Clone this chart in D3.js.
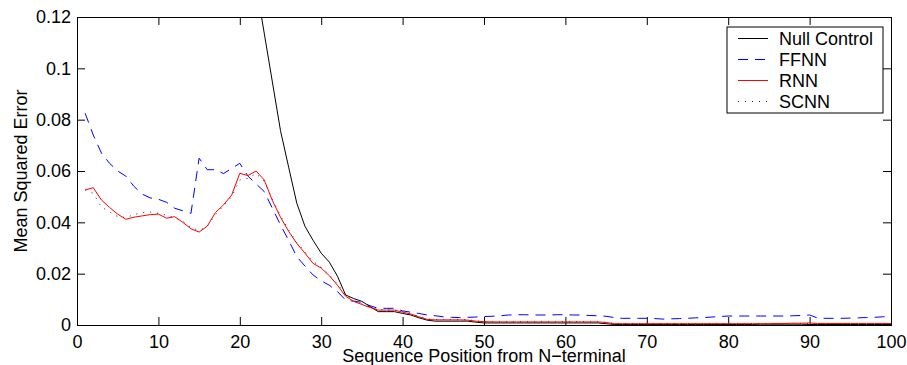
<!DOCTYPE html>
<html>
<head>
<meta charset="utf-8">
<script src="https://cdn.jsdelivr.net/npm/d3@7"></script>
<style>
  body { margin: 0; background: #fff; }
  svg text { font-family: "Liberation Sans", Arial, Helvetica, sans-serif; }
</style>
</head>
<body>
<div id="chart"></div>
<script>
// sequence positions 1..100
const positions = d3.range(1, 101);

// Null Control: values before position 21 lie far above the axis limit
const nullControl = [
  null, null, null, null, null, null, null, null, null, null,
  null, null, null, null, null, null, null, null, null, null,
  0.150, 0.1327, 0.1137, 0.0947, 0.0757, 0.0615, 0.0475, 0.0385, 0.033, 0.028,
  0.0245, 0.019, 0.0117, 0.0103, 0.0092, 0.0072, 0.0052, 0.0052, 0.0052, 0.0045,
  0.0039, 0.0028, 0.0019, 0.0015, 0.0015, 0.0015, 0.0015, 0.0015, 0.0011, 0.0008,
  0.0008, 0.0008, 0.0008, 0.0008, 0.0008, 0.0008, 0.0008, 0.0008, 0.0008, 0.0008,
  0.0008, 0.0008, 0.0008, 0.0008, 0.0005, 0.0002, 0.0002, 0.0002, 0.0002, 0.0002,
  0.0002, 0.0002, 0.0002, 0.0002, 0.0002, 0.0002, 0.0002, 0.0002, 0.0002, 0.0002,
  0.0002, 0.0002, 0.0002, 0.0003, 0.0003, 0.0003, 0.0003, 0.0003, 0.0003, 0.0002,
  0.0002, 0.0002, 0.0002, 0.0002, 0.0002, 0.0002, 0.0002, 0.0002, 0.0002, 0.0002
];

const ffnn = [
  0.0825, 0.074, 0.067, 0.063, 0.060, 0.058, 0.054, 0.051, 0.0495, 0.049,
  0.0478, 0.0455, 0.0445, 0.0435, 0.065, 0.0605, 0.0605, 0.059, 0.061, 0.063,
  0.058, 0.055, 0.052, 0.0455, 0.039, 0.033, 0.0266, 0.023, 0.0195, 0.0172,
  0.0155, 0.013, 0.0097, 0.0093, 0.0088, 0.0075, 0.0065, 0.0065, 0.0065, 0.0055,
  0.005, 0.0045, 0.0039, 0.0036, 0.0032, 0.0030, 0.0029, 0.0030, 0.0031, 0.0033,
  0.0034, 0.0036, 0.0039, 0.0040, 0.0040, 0.0039, 0.0039, 0.0039, 0.0040, 0.0040,
  0.0039, 0.0039, 0.0037, 0.0036, 0.0034, 0.0029, 0.0026, 0.0026, 0.0026, 0.0026,
  0.0025, 0.0023, 0.0024, 0.0025, 0.0026, 0.0028, 0.0029, 0.0031, 0.0033, 0.0035,
  0.0035, 0.0035, 0.0035, 0.0035, 0.0035, 0.0035, 0.0035, 0.0036, 0.0037, 0.0039,
  0.0027, 0.0026, 0.0026, 0.0026, 0.0027, 0.0028, 0.0029, 0.0030, 0.0032, 0.0034
];

const rnn = [
  0.0526, 0.0535, 0.0487, 0.0458, 0.0432, 0.0412, 0.0420, 0.0425, 0.0430, 0.0432,
  0.0416, 0.0422, 0.0400, 0.0375, 0.0362, 0.0385, 0.0438, 0.0468, 0.0506, 0.0591,
  0.0582, 0.0600, 0.0565, 0.0485, 0.0420, 0.0365, 0.0318, 0.0280, 0.0240, 0.0222,
  0.0192, 0.0155, 0.0112, 0.0092, 0.0080, 0.0068, 0.0058, 0.0058, 0.0058, 0.0050,
  0.0043, 0.0032, 0.0022, 0.0020, 0.0020, 0.0020, 0.0020, 0.0019, 0.0015, 0.0013,
  0.0012, 0.0012, 0.0012, 0.0012, 0.0012, 0.0012, 0.0012, 0.0012, 0.0012, 0.0012,
  0.0012, 0.0012, 0.0012, 0.0012, 0.0010, 0.0005, 0.0005, 0.0005, 0.0005, 0.0005,
  0.0005, 0.0005, 0.0005, 0.0005, 0.0005, 0.0005, 0.0005, 0.0005, 0.0005, 0.0005,
  0.0005, 0.0005, 0.0005, 0.0005, 0.0005, 0.0006, 0.0006, 0.0007, 0.0007, 0.0008,
  0.0006, 0.0006, 0.0006, 0.0006, 0.0006, 0.0006, 0.0006, 0.0006, 0.0006, 0.0006
];

const scnn = [
  0.0526, 0.0513, 0.0460, 0.0441, 0.0422, 0.0418, 0.0430, 0.0438, 0.0440, 0.0435,
  0.0428, 0.0418, 0.0405, 0.0380, 0.0368, 0.0385, 0.0430, 0.0465, 0.0500, 0.0565,
  0.0571, 0.0590, 0.0560, 0.0490, 0.0425, 0.0370, 0.0322, 0.0285, 0.0248, 0.0225,
  0.0195, 0.0160, 0.0115, 0.0095, 0.0082, 0.0070, 0.0060, 0.0060, 0.0058, 0.0052,
  0.0045, 0.0034, 0.0024, 0.0021, 0.0021, 0.0021, 0.0021, 0.0021, 0.0016, 0.0013,
  0.0013, 0.0013, 0.0013, 0.0013, 0.0013, 0.0013, 0.0013, 0.0013, 0.0013, 0.0013,
  0.0013, 0.0013, 0.0013, 0.0013, 0.0010, 0.0006, 0.0006, 0.0006, 0.0006, 0.0006,
  0.0006, 0.0006, 0.0006, 0.0006, 0.0006, 0.0006, 0.0006, 0.0006, 0.0006, 0.0006,
  0.0006, 0.0006, 0.0006, 0.0006, 0.0006, 0.0006, 0.0006, 0.0006, 0.0006, 0.0006,
  0.0006, 0.0006, 0.0006, 0.0006, 0.0006, 0.0006, 0.0006, 0.0006, 0.0006, 0.0006
];

const xTicks = [0, 10, 20, 30, 40, 50, 60, 70, 80, 90, 100];
const yTicks = [0, 0.02, 0.04, 0.06, 0.08, 0.1, 0.12];
const yTickLabels = ['0', '0.02', '0.04', '0.06', '0.08', '0.1', '0.12'];

const seriesNames = ['Null Control', 'FFNN', 'RNN', 'SCNN'];
const seriesValues = [nullControl, ffnn, rnn, scnn];

const styles = {
  'Null Control': {color: '#000', dash: null},
  'FFNN': {color: '#0000ff', dash: '10,7'},
  'RNN': {color: '#ff0000', dash: null},
  'SCNN': {color: '#222', dash: '1,6'}
};

const width = 907, height = 365;
const margins = {top: 17, right: 16, bottom: 40, left: 77};
const chartWidth = width - margins.left - margins.right;
const chartHeight = height - margins.top - margins.bottom;

const x = d3.scaleLinear().domain([0, 100]).range([0, chartWidth]);
const y = d3.scaleLinear().domain([0, 0.12]).range([chartHeight, 0]);

const svg = d3.select('#chart')
  .append('svg')
  .attr('width', width)
  .attr('height', height);

svg.append('defs').append('clipPath')
  .attr('id', 'plot-clip')
  .append('rect')
  .attr('width', chartWidth)
  .attr('height', chartHeight);

const chart = svg.append('g')
  .attr('transform', `translate(${margins.left}, ${margins.top})`);

/* axes: MATLAB style, ticks point inward on all four sides */
const fontSize = 18;
const tickLen = 8;

chart.append('g')
  .attr('transform', `translate(0, ${chartHeight})`)
  .call(d3.axisBottom(x).tickValues(xTicks).tickSize(-tickLen).tickPadding(10));
chart.append('g')
  .call(d3.axisTop(x).tickValues(xTicks).tickSize(-tickLen).tickFormat(''));
chart.append('g')
  .call(d3.axisLeft(y).tickValues(yTicks).tickSize(-tickLen).tickPadding(6)
    .tickFormat((d, i) => yTickLabels[i]));
chart.append('g')
  .attr('transform', `translate(${chartWidth}, 0)`)
  .call(d3.axisRight(y).tickValues(yTicks).tickSize(-tickLen).tickFormat(''));

chart.selectAll('.domain').attr('stroke', '#000');
chart.selectAll('.tick line').attr('stroke', '#000');
chart.selectAll('.tick text')
  .attr('fill', '#000')
  .style('font-size', fontSize + 'px');

/* lines */
const lineGen = d3.line()
  .defined(d => d.v != null)
  .x(d => x(d.p))
  .y(d => y(d.v));

const plot = chart.append('g').attr('clip-path', 'url(#plot-clip)');

// red is drawn over the dotted SCNN line, as in the picture
const drawOrder = ['Null Control', 'FFNN', 'SCNN', 'RNN'];
drawOrder.forEach(name => {
  const vals = seriesValues[seriesNames.indexOf(name)];
  const pts = positions.map((p, i) => ({p: p, v: vals[i]}));
  plot.append('path')
    .datum(pts)
    .attr('fill', 'none')
    .attr('stroke', styles[name].color)
    .attr('stroke-width', 1)
    .attr('stroke-dasharray', styles[name].dash)
    .attr('d', lineGen);
});

/* axis labels */
svg.append('text')
  .attr('x', margins.left + chartWidth / 2)
  .attr('y', 362)
  .attr('text-anchor', 'middle')
  .style('font-size', fontSize + 'px')
  .text('Sequence Position from N\u2212terminal');

svg.append('text')
  .attr('transform', `translate(27, ${margins.top + chartHeight / 2}) rotate(-90)`)
  .attr('text-anchor', 'middle')
  .style('font-size', fontSize + 'px')
  .text('Mean Squared Error');

/* legend */
const legend = svg.append('g').attr('transform', 'translate(727, 27)');
legend.append('rect')
  .attr('width', 156)
  .attr('height', 86)
  .attr('fill', '#fff')
  .attr('stroke', '#000');

seriesNames.forEach((name, i) => {
  const cy = 11.5 + i * 21;
  legend.append('line')
    .attr('x1', 11).attr('x2', 41)
    .attr('y1', cy).attr('y2', cy)
    .attr('stroke', styles[name].color)
    .attr('stroke-dasharray', styles[name].dash);
  legend.append('text')
    .attr('x', 52)
    .attr('y', cy + 6.5)
    .style('font-size', fontSize + 'px')
    .text(name);
});
</script>
</body>
</html>
